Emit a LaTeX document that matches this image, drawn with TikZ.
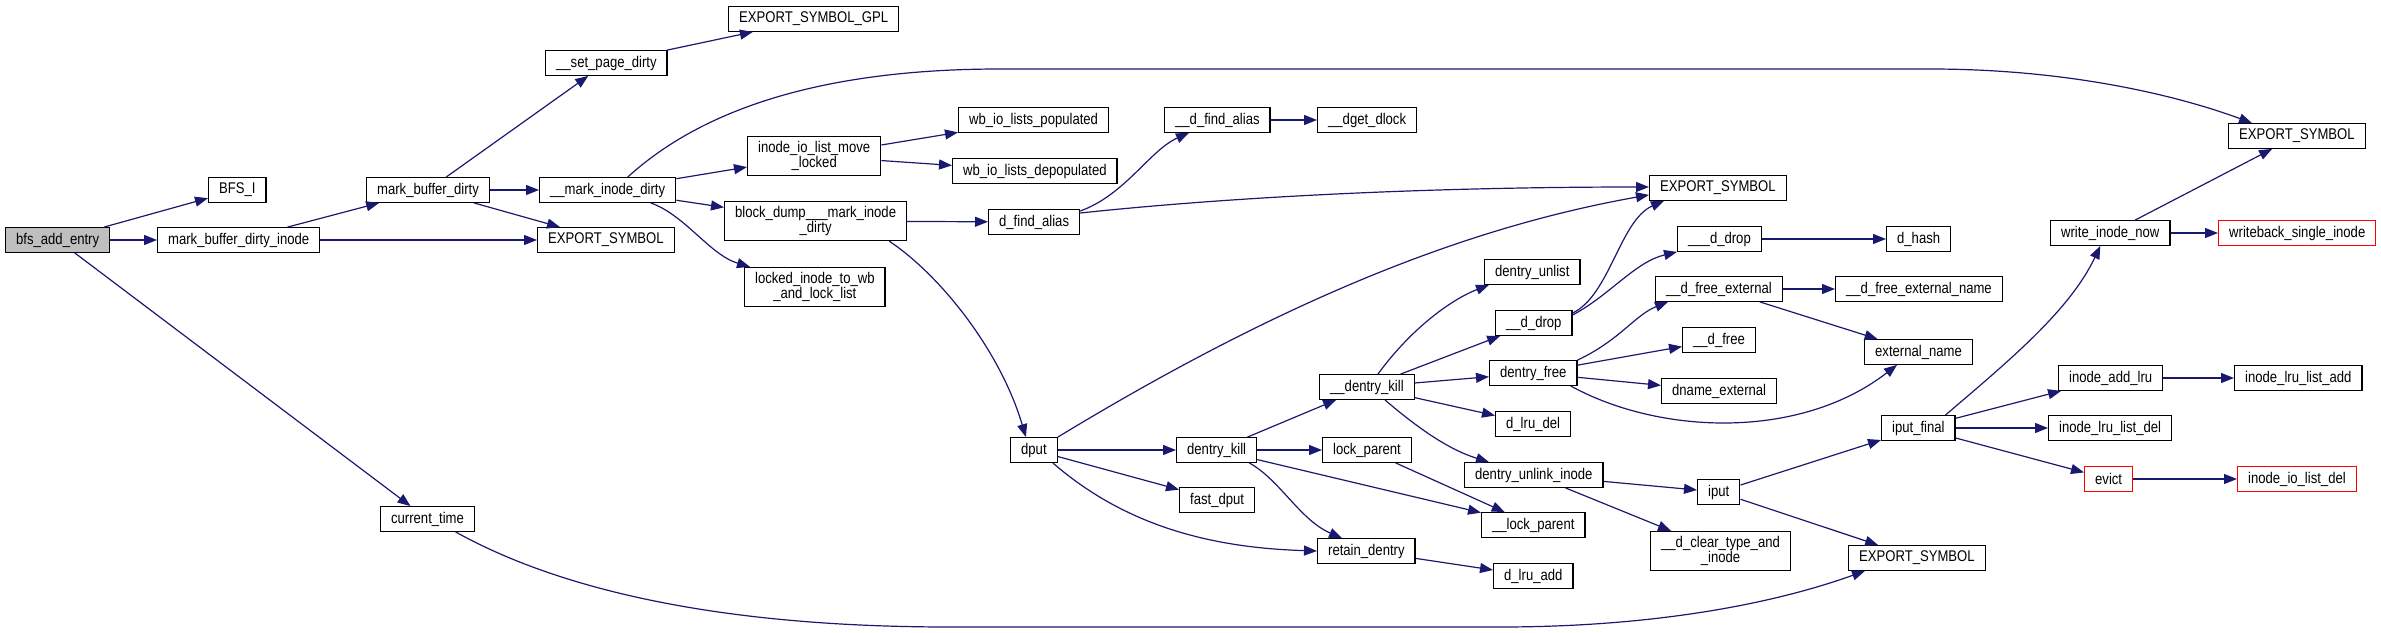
\documentclass[tikz,border=0pt]{standalone}
\usepackage{fontspec}
\setmainfont[FakeStretch=0.845]{Liberation Sans}
\usepackage{tikz}
\usetikzlibrary{positioning, arrows.meta}
\definecolor{edgeblue}{RGB}{25,25,112}
\definecolor{rootgray}{RGB}{191,191,191}

\begin{document}
\begin{tikzpicture}[x=1pt, y=-1pt, font=\fontsize{15.5}{15}\selectfont]
    \tikzstyle{block} = [rectangle, draw=black, fill=white, line width=1.3pt, anchor=west, inner xsep=10.5pt, inner ysep=3pt, minimum height=24.5pt, align=center]
    \tikzstyle{root} = [block, fill=rootgray]
    \tikzstyle{trunc} = [block, draw=red]
    \tikzstyle{twoline} = [minimum height=39pt]
    \tikzstyle{arrow} = [line width=1.2pt, draw=edgeblue, -{Triangle[length=13pt, width=10pt]}]

    \useasboundingbox (0,0) rectangle (2381,632);

    \node [root] (bfs) at (5,240) {bfs\_add\_entry};
    \node [block] (bfsi) at (208,190) {BFS\_I};
    \node [block] (mbdinode) at (157,240) {mark\_buffer\_dirty\_inode};
    \node [block] (mbd) at (366,190) {mark\_buffer\_dirty};
    \node [block] (setpage) at (545,63) {\_\_set\_page\_dirty};
    \node [block] (markinode) at (539,190) {\_\_mark\_inode\_dirty};
    \node [block] (expa) at (537,240) {EXPORT\_SYMBOL};
    \node [block] (expgpl) at (728,19) {EXPORT\_SYMBOL\_GPL};
    \node [block, twoline] (iolist) at (747,156) {inode\_io\_list\_move\\\_locked};
    \node [block] (wbpop) at (958,120) {wb\_io\_lists\_populated};
    \node [block] (wbdepop) at (952,171) {wb\_io\_lists\_depopulated};
    \node [block, twoline] (blockdump) at (724,221) {block\_dump\_\_\_mark\_inode\\\_dirty};
    \node [block, twoline] (lockedinode) at (744,287) {locked\_inode\_to\_wb\\\_and\_lock\_list};
    \node [block] (dfindalias) at (988,222) {d\_find\_alias};
    \node [block] (dfindaliasb) at (1164,120) {\_\_d\_find\_alias};
    \node [block] (dget) at (1317,120) {\_\_dget\_dlock};
    \node [block] (expb) at (1649,188) {EXPORT\_SYMBOL};
    \node [block] (expc) at (2228,136) {EXPORT\_SYMBOL};
    \node [block] (curtime) at (380,519) {current\_time};

    \node [block] (dput) at (1010,450) {dput};
    \node [block] (dkill) at (1176,450) {dentry\_kill};
    \node [block] (fastdput) at (1179,500) {fast\_dput};
    \node [block] (retain) at (1317,551) {retain\_dentry};
    \node [block] (dkillb) at (1319,387) {\_\_dentry\_kill};
    \node [block] (lockparent) at (1322,450) {lock\_parent};
    \node [block] (lockparentb) at (1481,525) {\_\_lock\_parent};
    \node [block] (lruadd) at (1493,576) {d\_lru\_add};
    \node [block] (lrudel) at (1495,424) {d\_lru\_del};
    \node [block] (unlinkinode) at (1464,475) {dentry\_unlink\_inode};
    \node [block] (dfree) at (1489,373) {dentry\_free};
    \node [block] (ddrop) at (1495,323) {\_\_d\_drop};
    \node [block] (dunlist) at (1484,272) {dentry\_unlist};
    \node [block] (ddropb) at (1677,239) {\_\_\_d\_drop};
    \node [block] (dhash) at (1886,239) {d\_hash};
    \node [block] (dfreeext) at (1655,289) {\_\_d\_free\_external};
    \node [block] (dfreeextname) at (1835,289) {\_\_d\_free\_external\_name};
    \node [block] (dfreeb) at (1682,340) {\_\_d\_free};
    \node [block] (dnameext) at (1661,391) {dname\_external};
    \node [block] (extname) at (1864,352) {external\_name};
    \node [block] (iput) at (1697,492) {iput};
    \node [block, twoline] (dclear) at (1650,551) {\_\_d\_clear\_type\_and\\\_inode};
    \node [block] (expd) at (1848,558) {EXPORT\_SYMBOL};
    \node [block] (iputfinal) at (1881,428) {iput\_final};
    \node [block] (writenow) at (2050,233) {write\_inode\_now};
    \node [trunc] (wbsingle) at (2218,233) {writeback\_single\_inode};
    \node [block] (addlru) at (2058,378) {inode\_add\_lru};
    \node [block] (lrulistadd) at (2234,378) {inode\_lru\_list\_add};
    \node [block] (lrulistdel) at (2048,428) {inode\_lru\_list\_del};
    \node [trunc] (evict) at (2084,479) {evict};
    \node [trunc] (iolistdel) at (2237,479) {inode\_io\_list\_del};

    \draw [arrow] (bfs) -- (bfsi);
    \draw [arrow] (bfs) -- (mbdinode);
    \draw [arrow] (bfs) -- (curtime);
    \draw [arrow] (mbdinode) -- (mbd);
    \draw [arrow] (mbdinode) -- (expa);
    \draw [arrow] (mbd) -- (setpage);
    \draw [arrow] (mbd) -- (markinode);
    \draw [arrow] (mbd) -- (expa);
    \draw [arrow] (setpage) -- (expgpl);
    \draw [arrow] ([xshift=20pt]markinode.north) .. controls (685,125) and (790,69) .. (1000,69) -- (1930,69) .. controls (2080,69) and (2190,100) .. ([xshift=24pt]expc.north west);
    \draw [arrow] (markinode) -- (iolist);
    \draw [arrow] (markinode) -- (blockdump);
    \draw [arrow] ([xshift=43pt]markinode.south) .. controls (685,215) and (710,255) .. ([xshift=6pt]lockedinode.north west);
    \draw [arrow] (iolist) -- (wbpop);
    \draw [arrow] (iolist) -- (wbdepop);
    \draw [arrow] (blockdump) -- (dfindalias);
    \draw [arrow] ([xshift=-18pt]blockdump.south east) .. controls (940,275) and (1000,350) .. ([xshift=-8pt]dput.north);
    \draw [arrow] ([yshift=11pt]dfindalias.east) .. controls (1125,195) and (1150,150) .. ([xshift=25pt]dfindaliasb.south west);
    \draw [arrow] ([yshift=9pt]dfindalias.east) .. controls (1250,195) and (1450,187) .. ([yshift=1pt]expb.west);
    \draw [arrow] (dfindaliasb) -- (dget);
    \draw [arrow] (curtime.south) ++(28pt,0) .. controls (560,590) and (720,627) .. (950,627) -- (1500,627) .. controls (1650,627) and (1770,605) .. ([xshift=17pt]expd.south west);

    \draw [arrow] (dput.north east) .. controls (1300,290) and (1480,225) .. ([yshift=6pt]expb.south west);
    \draw [arrow] (dput) -- (dkill);
    \draw [arrow] (dput) -- (fastdput);
    \draw [arrow] ([xshift=-5pt]dput.south east) .. controls (1130,530) and (1220,548) .. (retain.west);
    \draw [arrow] (dkill) -- (dkillb);
    \draw [arrow] (dkill) -- (lockparent);
    \draw [arrow] (dkill) -- (lockparentb);
    \draw [arrow] ([xshift=-8pt]dkill.south east) .. controls (1280,480) and (1300,520) .. ([xshift=25pt]retain.north west);
    \draw [arrow] (lockparent) -- (lockparentb);
    \draw [arrow] (retain) -- (lruadd);
    \draw [arrow] ([xshift=11pt]dkillb.north) .. controls (1410,330) and (1450,300) .. ([xshift=5pt]dunlist.south west);
    \draw [arrow] (dkillb) -- (ddrop);
    \draw [arrow] (dkillb) -- (dfree);
    \draw [arrow] (dkillb) -- (lrudel);
    \draw [arrow] ([xshift=18pt]dkillb.south) .. controls (1420,430) and (1450,450) .. ([xshift=25pt]unlinkinode.north west);
    \draw [arrow] ([yshift=10pt]ddrop.east) .. controls (1610,295) and (1620,220) .. ([xshift=15pt]expb.south west);
    \draw [arrow] ([yshift=8pt]ddrop.east) .. controls (1610,295) and (1635,262) .. (ddropb.south west);
    \draw [arrow] (ddropb) -- (dhash);
    \draw [arrow] (dfree.north east) .. controls (1620,340) and (1635,315) .. ([xshift=13pt]dfreeext.south west);
    \draw [arrow] (dfree) -- (dfreeb);
    \draw [arrow] (dfree) -- (dnameext);
    \draw [arrow] ([xshift=-7pt]dfree.south east) .. controls (1660,435) and (1800,440) .. ([xshift=33pt]extname.south west);
    \draw [arrow] (dfreeext) -- (dfreeextname);
    \draw [arrow] (dfreeext) -- (extname);
    \draw [arrow] (unlinkinode) -- (iput);
    \draw [arrow] (unlinkinode) -- (dclear);
    \draw [arrow] (iput) -- (iputfinal);
    \draw [arrow] (iput) -- (expd);
    \draw [arrow] ([xshift=27pt]iputfinal.north) .. controls (2010,360) and (2070,310) .. ([xshift=-10pt]writenow.south);
    \draw [arrow] (iputfinal) -- (addlru);
    \draw [arrow] (iputfinal) -- (lrulistdel);
    \draw [arrow] (iputfinal) -- (evict);
    \draw [arrow] (writenow) -- (expc);
    \draw [arrow] (writenow) -- (wbsingle);
    \draw [arrow] (addlru) -- (lrulistadd);
    \draw [arrow] (evict) -- (iolistdel);
\end{tikzpicture}
\end{document}
